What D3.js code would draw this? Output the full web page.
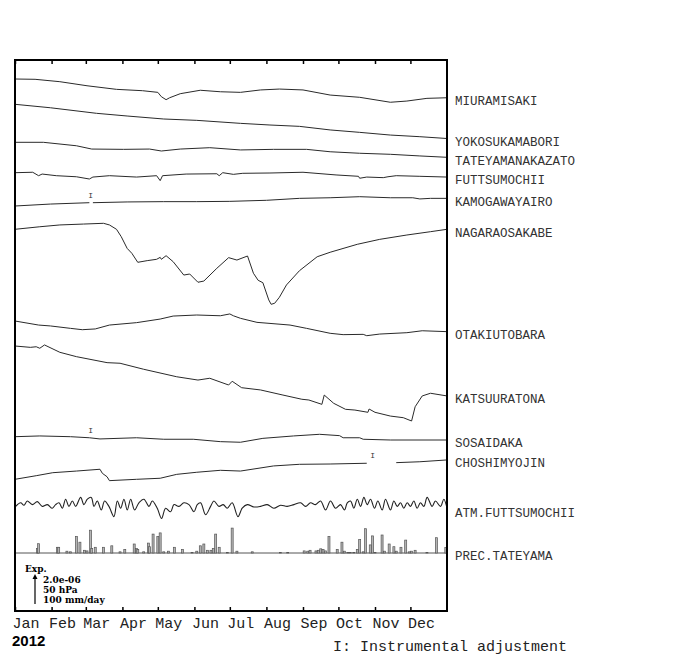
<!DOCTYPE html>
<html lang="en">
<head>
<meta charset="UTF-8">
<title>Strain 2012</title>
<script src="https://d3js.org/d3.v7.min.js"></script>
<style>
  body{margin:0;background:#fff}
  svg{display:block}
</style>
</head>
<body>
<script>
// day of year 2012 , strain change in 1e-7 (rel. to Jan 1)
const miuramisaki = [[0,0],[17,-0.2],[38,-1.8],[61,-4.5],[86,-6.9],[108,-7.8],[121,-8.9],[124,-11.8],[128,-13.8],[131,-12.5],[140,-9.8],[157,-7.5],[174,-8.5],[191,-8.9],[208,-7.3],[224,-6.7],[244,-7.3],[267,-10.7],[292,-12.2],[318,-15.5],[332,-14.7],[349,-12.9],[366,-12.5]];
const yokosukamabori = [[0,0],[30,-2.3],[69,-6.0],[95,-7.8],[126,-9.8],[154,-10.7],[191,-12.7],[216,-13.8],[241,-14.7],[267,-17.1],[292,-18.7],[318,-20.5],[343,-21.6],[366,-22.8]];
const tateyamanakazato = [[0,0],[24,0],[52,-2.3],[65,-4.5],[92,-4.7],[114,-4.5],[124,-5.8],[140,-4.5],[165,-3.6],[191,-5.1],[219,-4.7],[247,-4.7],[267,-6.3],[292,-7.3],[318,-8.0],[343,-9.1],[366,-10.0]];
const futtsumochii = [[0,0],[15,0.3],[20,-2.0],[23,-0.9],[35,-2.0],[52,-2.7],[63,-4.2],[66,-2.9],[80,-2.0],[103,-2.9],[120,-2.0],[123,-5.3],[125,-2.0],[145,-0.9],[171,-0.7],[173,-2.0],[176,0],[185,-1.1],[193,-0.4],[216,-0.2],[244,0.3],[272,-1.5],[291,-2.4],[292,-3.7],[298,-2.9],[312,-3.3],[316,-2.7],[323,-2.0],[343,-2.4],[366,-2.9]];
const kamogawayairo = [[0,0],[30,1.3],[63,2.2],[64.5,null],[66,2.2],[95,2.7],[126,2.9],[154,2.9],[182,3.1],[213,3.8],[241,5.1],[267,5.5],[292,6.2],[318,5.5],[337,5.5],[343,4.7],[352,5.1],[366,5.1]];
const nagaraosakabe = [[0,0],[21,1.7],[38,2.9],[58,3.5],[75,4.0],[80,2.9],[86,0],[90,-4.9],[95,-12.7],[99,-16.0],[104,-22.0],[112,-20.9],[120,-20.0],[123,-18.7],[124,-20.0],[128,-17.6],[134,-21.6],[143,-30.5],[148,-29.8],[155,-35.3],[160,-34.5],[171,-26.0],[181,-18.9],[188,-20.5],[197,-17.8],[202,-29.3],[206,-34.0],[210,-35.6],[215,-47.1],[217,-50.0],[220,-49.3],[224,-45.3],[230,-37.1],[241,-27.6],[256,-18.3],[267,-15.3],[290,-10.0],[309,-6.7],[332,-3.8],[352,-1.6],[366,0]];
const otakiutobara = [[0,0],[20,-2.7],[30,-3.3],[47,-4.9],[57,-5.8],[68,-5.3],[80,-2.7],[103,-1.1],[123,1.3],[134,3.3],[154,4.0],[174,3.5],[182,4.7],[185,3.5],[191,1.8],[205,-0.9],[233,-2.7],[247,-4.9],[267,-8.2],[278,-9.1],[295,-8.9],[298,-9.8],[309,-8.7],[332,-7.8],[345,-6.5],[366,-7.1]];
const katsuuratona = [[0,0],[13,-0.9],[18,-0.5],[21,-1.5],[25,0.7],[38,-4.2],[52,-7.1],[78,-11.1],[89,-11.5],[109,-15.5],[137,-20.5],[155,-22.7],[165,-21.5],[181,-26.0],[184,-23.5],[192,-27.8],[208,-29.3],[227,-32.7],[243,-35.5],[249,-36.0],[260,-38.9],[262,-32.7],[270,-38.2],[280,-42.2],[288,-42.7],[299,-44.2],[300,-42.0],[305,-44.2],[318,-46.7],[329,-47.8],[336,-50.0],[339,-40.5],[345,-33.3],[352,-31.5],[366,-33.3]];
const sosaidaka = [[0,0],[21,0.5],[47,0],[63,-0.7],[72,-1.5],[103,-0.7],[126,-1.7],[151,-1.7],[174,-3.3],[191,-3.7],[210,-1.1],[236,0.5],[258,1.6],[275,0.7],[278,-0.7],[292,-0.7],[295,-1.7],[318,-2.2],[366,-2.2]];
const choshimyojin = [[0,0],[18,2.4],[32,4.4],[52,5.5],[72,6.7],[74,4.0],[78,1.7],[80,-0.9],[103,0],[123,0.7],[137,3.3],[154,4.7],[174,6.0],[191,5.5],[219,8.9],[241,10.0],[267,10.2],[298,10.7],[310,null],[323,11.1],[343,11.7],[366,12.9]];

// atmospheric pressure, Futtsumochii (hPa)
const atmDays = [0.6,4.8,7.6,10.4,14.7,18.9,23.1,27.4,31.6,34.4,37.3,40.1,42.9,45.7,48.6,51.4,55.6,58.4,61.3,64.6,66.9,69.7,73.1,75.9,79.6,83.8,86.7,89.5,92.3,95.1,98,101.3,105,109.2,113.5,116.3,120.5,124.2,127.6,131.8,134.7,138.9,143.1,147.4,151.6,154.4,157.2,161.5,165.7,168.5,172.8,176.4,179.8,184,188.9,192.5,196.8,202.4,208.1,213.7,219.3,225,230.6,236.3,241.9,246.2,250.4,254.6,258.9,263.1,267.3,271.6,275.8,279.2,281.5,284.3,287.1,290,292.8,295.6,298.4,301.2,304.6,307.4,311.1,313.9,318.1,321,323.8,326.6,329.4,332.3,335.1,337.9,340.7,343.5,346.4,349.2,353.4,356.2,360.5,363.3,366];
const atmHpa = [1009,1015,1011,1018,1012,1017,1009,1012,1006,1012,1015,1006,1021,1009,1018,1009,1024,1012,1021,1024,1009,1018,1003,1018,1009,992,1018,1006,1021,1003,1021,1003,1015,1021,1009,1018,1006,989,1006,1000,1012,1009,1015,1012,1000,1012,1015,995,1009,1018,1009,1012,1006,1015,992,1006,1012,1008,1009,1012,1006,1011,1009,1012,1015,1009,1015,1012,1018,1003,1018,1006,1012,1003,1015,1018,1006,1021,1009,1024,1012,1021,1006,1018,1003,1021,1003,1018,1009,1015,1006,1015,1009,1018,1006,1015,1009,1024,1009,1018,1009,1021,1006];

// daily precipitation, Tateyama (mm/day)
const precDays = [19,20,36,37,44,47,52,55,59,61,64,65,68,75,82,89,93,101,103,104,109,113,114,117,121,123,126,130,135,142,150,154,157,160,163,166,168,170,173,180,184,188,201,225,231,245,248,250,255,257,259,261,263,266,273,277,279,282,284,287,290,292,295,297,301,303,305,311,313,317,321,323,327,331,334,336,339,349,357,365];
const precMm = [15,31,19,19,6,4,55,36,9,7,76,15,19,19,24,4,12,30,15,12,4,33,21,63,55,67,4,6,19,12,2,6,24,30,9,9,15,63,19,2,83,6,4,2,2,7,6,9,7,9,14,12,7,55,12,36,6,2,2,2,12,45,4,81,27,57,2,60,6,30,21,6,19,43,4,6,9,2,51,18];

const stations = ["MIURAMISAKI","YOKOSUKAMABORI","TATEYAMANAKAZATO","FUTTSUMOCHII","KAMOGAWAYAIRO","NAGARAOSAKABE","OTAKIUTOBARA","KATSUURATONA","SOSAIDAKA","CHOSHIMYOJIN"];
const strainSeries = [miuramisaki,yokosukamabori,tateyamanakazato,futtsumochii,kamogawayairo,nagaraosakabe,otakiutobara,katsuuratona,sosaidaka,choshimyojin];
// instrumental adjustments: [station index, day]
const adjustments = [[4,64],[8,64],[9,303]];
const monthLabels = ["Jan","Feb","Mar","Apr","May","Jun","Jul","Aug","Sep","Oct","Nov","Dec"];

// layout
const W = 700, H = 670;
const plot = {left: 15, right: 447, top: 60, bottom: 611};
const rowY = [79,104.3,142.3,172.7,206,229.3,321,346,436.7,479.3]; // start y of each trace
const atmY = 504, precY = 553, barPx = 30;
const mono = "'Liberation Mono', 'Courier New', monospace";

const svg = d3.select("body").append("svg")
    .attr("width", W).attr("height", H)
    .attr("viewBox", `0 0 ${W} ${H}`);

const t0 = new Date(2012,0,1);
const toDate = d => new Date(+t0 + d*864e5);
const x = d3.scaleTime().domain([t0, new Date(2013,0,1)]).range([plot.left, plot.right]);
const dStrain = d3.scaleLinear().domain([0,20]).range([0,-barPx]);   // 2.0e-06
const dPres = d3.scaleLinear().domain([0,50]).range([0,-barPx]);     // 50 hPa
const dPrec = d3.scaleLinear().domain([0,100]).range([0,-barPx]);    // 100 mm/day

const g = svg.append("g");

strainSeries.forEach((s,i)=>{
    const line = d3.line()
        .defined(d=>d[1]!=null)
        .x(d=>x(toDate(d[0])))
        .y(d=>rowY[i]+dStrain(d[1]));
    g.append("path").datum(s)
        .attr("d", line)
        .attr("fill","none")
        .attr("stroke","#2a2a2a")
        .attr("stroke-width",1);
    const last = s[s.length-1];
    svg.append("text")
        .attr("x", plot.right+8)
        .attr("y", rowY[i]+dStrain(last[1])+3)
        .attr("dy","0.35em")
        .attr("font-family",mono)
        .attr("font-size",12.5)
        .attr("fill","#333")
        .text(stations[i]);
});

// adjustment marks
adjustments.forEach(([i,day])=>{
    const s = strainSeries[i];
    const near = s.filter(d=>d[1]!=null).reduce((a,b)=>Math.abs(b[0]-day)<Math.abs(a[0]-day)?b:a);
    g.append("text")
        .attr("x", x(toDate(day)))
        .attr("y", rowY[i]+dStrain(near[1])-5)
        .attr("text-anchor","middle")
        .attr("font-family",mono)
        .attr("font-size",8)
        .attr("fill","#333")
        .text("I");
});

// pressure
const atm = atmDays.map((d,i)=>[d, atmHpa[i]]);
g.append("path").datum(atm)
    .attr("d", d3.line().curve(d3.curveCatmullRom).x(d=>x(toDate(d[0]))).y(d=>atmY+dPres(d[1]-1013)))
    .attr("fill","none")
    .attr("stroke","#222")
    .attr("stroke-width",1.1);
svg.append("text")
    .attr("x", plot.right+8).attr("y", 513).attr("dy","0.35em")
    .attr("font-family",mono).attr("font-size",12.5).attr("fill","#333")
    .text("ATM.FUTTSUMOCHII");

// precipitation
g.append("line")
    .attr("x1",plot.left).attr("x2",plot.right)
    .attr("y1",precY).attr("y2",precY)
    .attr("stroke","#555").attr("stroke-width",1);
g.selectAll("rect.prec").data(precDays)
    .enter().append("rect")
    .attr("class","prec")
    .attr("x", d=>x(toDate(d))-1)
    .attr("width", 2)
    .attr("y", (d,i)=>precY+dPrec(precMm[i]))
    .attr("height", (d,i)=>-dPrec(precMm[i]))
    .attr("fill","#b5b5b5")
    .attr("stroke","#555")
    .attr("stroke-width",0.7);
svg.append("text")
    .attr("x", plot.right+8).attr("y", 556).attr("dy","0.35em")
    .attr("font-family",mono).attr("font-size",12.5).attr("fill","#333")
    .text("PREC.TATEYAMA");

// frame + month ticks
const months = d3.range(12).map(m=>new Date(2012,m,1));
const bottomAxis = d3.axisBottom(x).tickValues(months).tickSize(-4).tickPadding(6)
    .tickFormat((d,i)=>monthLabels[i]);
const ax = svg.append("g").attr("transform",`translate(0,${plot.bottom})`).call(bottomAxis);
ax.select(".domain").remove();
ax.selectAll("line").attr("stroke","#000").attr("stroke-width",1.5);
ax.selectAll("text")
    .attr("text-anchor","start")
    .attr("x",-3)
    .attr("font-family",mono)
    .attr("font-size",15)
    .attr("fill","#222");
const topAxis = d3.axisTop(x).tickValues(months).tickSize(-4).tickFormat("");
const ax2 = svg.append("g").attr("transform",`translate(0,${plot.top})`).call(topAxis);
ax2.select(".domain").remove();
ax2.selectAll("line").attr("stroke","#000").attr("stroke-width",1.5);

svg.append("rect")
    .attr("x",plot.left).attr("y",plot.top)
    .attr("width",plot.right-plot.left).attr("height",plot.bottom-plot.top)
    .attr("fill","none").attr("stroke","#000").attr("stroke-width",2);

svg.append("text")
    .attr("x",12).attr("y",646)
    .attr("font-family","'Liberation Sans', Arial, sans-serif")
    .attr("font-weight","bold").attr("font-size",15)
    .text("2012");

svg.append("text")
    .attr("x",333).attr("y",651)
    .attr("font-family",mono)
    .attr("font-size",15).attr("fill","#222")
    .text("I: Instrumental adjustment");

// scale legend
const leg = svg.append("g")
    .attr("font-family","'DejaVu Serif', serif")
    .attr("font-weight","bold").attr("font-size",9);
leg.append("text").attr("x",25).attr("y",572).text("Exp.");
leg.append("line")
    .attr("x1",35).attr("x2",35)
    .attr("y1",604).attr("y2",604-barPx+2)
    .attr("stroke","#000").attr("stroke-width",1.2);
leg.append("path")
    .attr("d",`M32.5,${604-barPx+5}L35,${604-barPx}L37.5,${604-barPx+5}Z`)
    .attr("fill","#000");
leg.append("text").attr("x",43).attr("y",583).text("2.0e-06");
leg.append("text").attr("x",43).attr("y",593).text("50 hPa");
leg.append("text").attr("x",43).attr("y",603).text("100 mm/day");
</script>
</body>
</html>
